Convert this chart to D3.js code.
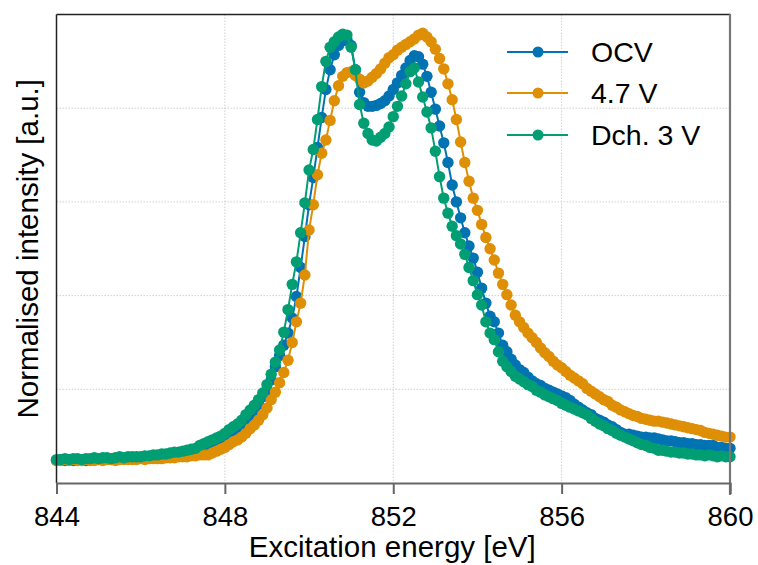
<!DOCTYPE html>
<html>
<head>
<meta charset="utf-8">
<script src="https://cdn.jsdelivr.net/npm/d3@7"></script>
<style>
  html, body { margin: 0; padding: 0; background: #fff; }
  svg { display: block; }
  text { font-family: "Liberation Sans", Arial, Helvetica, sans-serif; fill: #000; }
</style>
</head>
<body>
<svg id="chart" width="758" height="565"></svg>
<script>
// ---------------- DATA ----------------
// Excitation energy grid (eV), 844.0 .. 860.0 in 0.1 eV steps
const energy = d3.range(0, 161).map(i => +(844 + i * 0.1).toFixed(1));

const seriesNames = ["OCV", "4.7 V", "Dch. 3 V"];
const seriesColors = ["#0173B2", "#DE8F05", "#029E73"];

const ocv = [
  .24,.25,.24,.25,.24,.25,.25,.24,.25,.25,.25,
  .25,.26,.25,.26,.26,.26,.26,.27,.26,.27,
  .27,.27,.28,.28,.28,.29,.29,.30,.30,.31,
  .32,.33,.34,.35,.37,.40,.42,.44,.46,.49,
  .52,.56,.59,.63,.67,.73,.78,.84,.92,.99,
  1.10,1.24,1.36,1.47,1.60,1.76,1.99,2.30,2.63,2.97,
  3.26,3.58,3.90,4.20,4.41,4.57,4.67,4.72,4.73,4.67,
  4.41,4.17,4.06,4.02,4.02,4.03,4.05,4.08,4.13,4.20,
  4.27,4.35,4.43,4.51,4.56,4.55,4.47,4.34,4.17,3.99,
  3.81,3.63,3.42,3.18,3.00,2.83,2.67,2.53,2.40,2.25,
  2.08,1.92,1.78,1.72,1.60,1.47,1.40,1.32,1.26,1.21,
  1.18,1.13,1.09,1.06,1.04,1.01,.99,.97,.95,.93,
  .91,.88,.84,.81,.78,.75,.73,.69,.67,.65,
  .62,.60,.57,.54,.52,.52,.51,.50,.49,.49,
  .48,.48,.47,.46,.45,.45,.44,.43,.43,.42,
  .42,.41,.41,.40,.40,.40,.38,.38,.37,.37
];

const v47 = [
  .24,.24,.25,.24,.25,.24,.24,.25,.24,.24,.25,
  .24,.25,.25,.24,.25,.25,.25,.25,.25,.26,
  .25,.26,.26,.26,.26,.27,.27,.27,.28,.28,
  .28,.29,.29,.30,.30,.30,.32,.34,.36,.38,
  .41,.44,.46,.49,.53,.58,.62,.67,.73,.80,
  .89,.97,1.07,1.18,1.31,1.50,1.72,1.92,2.22,2.70,
  2.97,3.29,3.52,3.66,3.87,4.08,4.24,4.34,4.38,4.39,
  4.35,4.31,4.27,4.29,4.33,4.37,4.42,4.48,4.54,4.57,
  4.62,4.65,4.68,4.71,4.74,4.78,4.80,4.76,4.71,4.63,
  4.53,4.42,4.26,4.09,3.88,3.64,3.42,3.22,3.04,2.91,
  2.76,2.62,2.50,2.38,2.24,2.12,2.01,1.90,1.79,1.72,
  1.66,1.60,1.55,1.50,1.44,1.39,1.35,1.30,1.26,1.23,
  1.19,1.15,1.12,1.09,1.06,1.01,.98,.95,.92,.89,
  .87,.83,.81,.78,.76,.74,.72,.71,.69,.68,
  .67,.66,.66,.65,.64,.63,.62,.61,.60,.59,
  .58,.57,.56,.54,.53,.52,.51,.50,.49,.49
];

const dch3 = [
  .25,.25,.26,.25,.26,.26,.25,.26,.26,.27,.26,
  .27,.27,.26,.27,.28,.27,.28,.28,.28,.28,
  .29,.29,.30,.30,.31,.31,.32,.33,.33,.34,
  .35,.36,.37,.40,.42,.44,.46,.48,.50,.53,
  .57,.60,.63,.67,.73,.78,.83,.89,.96,1.05,
  1.16,1.29,1.42,1.61,1.85,2.12,2.36,2.67,2.99,3.34,
  3.56,3.88,4.23,4.50,4.65,4.71,4.76,4.79,4.78,4.65,
  4.41,4.04,3.84,3.73,3.66,3.65,3.69,3.73,3.80,3.91,
  4.02,4.13,4.26,4.39,4.43,4.28,4.12,3.96,3.79,3.54,
  3.27,3.04,2.88,2.74,2.64,2.55,2.44,2.30,2.16,2.01,
  1.90,1.72,1.60,1.53,1.40,1.30,1.24,1.19,1.14,1.11,
  1.08,1.05,1.03,.99,.97,.94,.92,.90,.88,.85,
  .83,.81,.79,.77,.75,.73,.69,.66,.63,.61,
  .58,.56,.53,.51,.49,.47,.45,.43,.41,.40,
  .38,.37,.35,.35,.34,.33,.33,.32,.32,.31,
  .31,.30,.30,.29,.30,.29,.28,.29,.28,.28
];

const xTicks = [844, 848, 852, 856, 860];
const yGrid = [1, 2, 3, 4];
const xTitle = "Excitation energy [eV]";
const yTitle = "Normalised intensity [a.u.]";

// ---------------- LAYOUT ----------------
const svg = d3.select("#chart");
const L = 56.5, R = 730, T = 14.5, B = 483;

const x = d3.scaleLinear().domain([844, 860]).range([L, R]);
const y = d3.scaleLinear().domain([0, 5]).range([B, T]);

// grid
const grid = svg.append("g");
grid.selectAll(".gx").data(xTicks.slice(1, -1)).join("line")
  .attr("x1", d => x(d)).attr("x2", d => x(d))
  .attr("y1", T).attr("y2", B)
  .attr("stroke", "#d0d0d0").attr("stroke-width", 1).attr("stroke-dasharray", "1.5,1.5");
grid.selectAll(".gy").data(yGrid).join("line")
  .attr("x1", L).attr("x2", R)
  .attr("y1", d => y(d)).attr("y2", d => y(d))
  .attr("stroke", "#d0d0d0").attr("stroke-width", 1).attr("stroke-dasharray", "1.5,1.5");

// series
const all = [ocv, v47, dch3];
all.forEach((vals, si) => {
  const pts = energy.map((e, i) => [e, vals[i]]);
  const g = svg.append("g");
  g.append("path")
    .datum(pts)
    .attr("fill", "none")
    .attr("stroke", seriesColors[si])
    .attr("stroke-width", 2)
    .attr("d", d3.line().x(d => x(d[0])).y(d => y(d[1])));
  g.selectAll("circle").data(pts).join("circle")
    .attr("cx", d => x(d[0])).attr("cy", d => y(d[1]))
    .attr("r", 5.7)
    .attr("fill", seriesColors[si]);
});

// frame
svg.append("line").attr("x1", L).attr("x2", R).attr("y1", T).attr("y2", T)
  .attr("stroke", "#222").attr("stroke-width", 1.5);
svg.append("line").attr("x1", L).attr("x2", L).attr("y1", T).attr("y2", B)
  .attr("stroke", "#222").attr("stroke-width", 1.5);
svg.append("line").attr("x1", R).attr("x2", R).attr("y1", T - 0.75).attr("y2", B + 12)
  .attr("stroke", "#777").attr("stroke-width", 2.2);

// x axis
const xAxis = svg.append("g")
  .attr("transform", `translate(0,${B})`)
  .call(d3.axisBottom(x).tickValues(xTicks).tickSize(11).tickPadding(12).tickFormat(d3.format("d")));
xAxis.select(".domain").attr("stroke", "#666").attr("stroke-width", 2);
xAxis.selectAll(".tick line").attr("stroke", "#666").attr("stroke-width", 2);
xAxis.selectAll(".tick text")
  .style("font-family", '"Liberation Sans", Arial, sans-serif')
  .attr("font-size", 27.5).attr("fill", "#000");

// axis titles
svg.append("text")
  .attr("x", (L + R) / 2 - 1).attr("y", 557)
  .attr("text-anchor", "middle")
  .attr("font-size", 29.5)
  .text(xTitle);
svg.append("text")
  .attr("transform", `translate(38,${(T + B) / 2}) rotate(-90)`)
  .attr("text-anchor", "middle")
  .attr("font-size", 29.5)
  .text(yTitle);

// legend
const legY = [52, 93, 135];
const leg = svg.append("g");
seriesNames.forEach((name, i) => {
  leg.append("line")
    .attr("x1", 507).attr("x2", 568).attr("y1", legY[i]).attr("y2", legY[i])
    .attr("stroke", seriesColors[i]).attr("stroke-width", 2);
  leg.append("circle")
    .attr("cx", 538).attr("cy", legY[i]).attr("r", 5.5)
    .attr("fill", seriesColors[i]);
  leg.append("text")
    .attr("x", 591).attr("y", legY[i] + 10)
    .attr("font-size", 28.5)
    .text(name);
});
</script>
</body>
</html>
